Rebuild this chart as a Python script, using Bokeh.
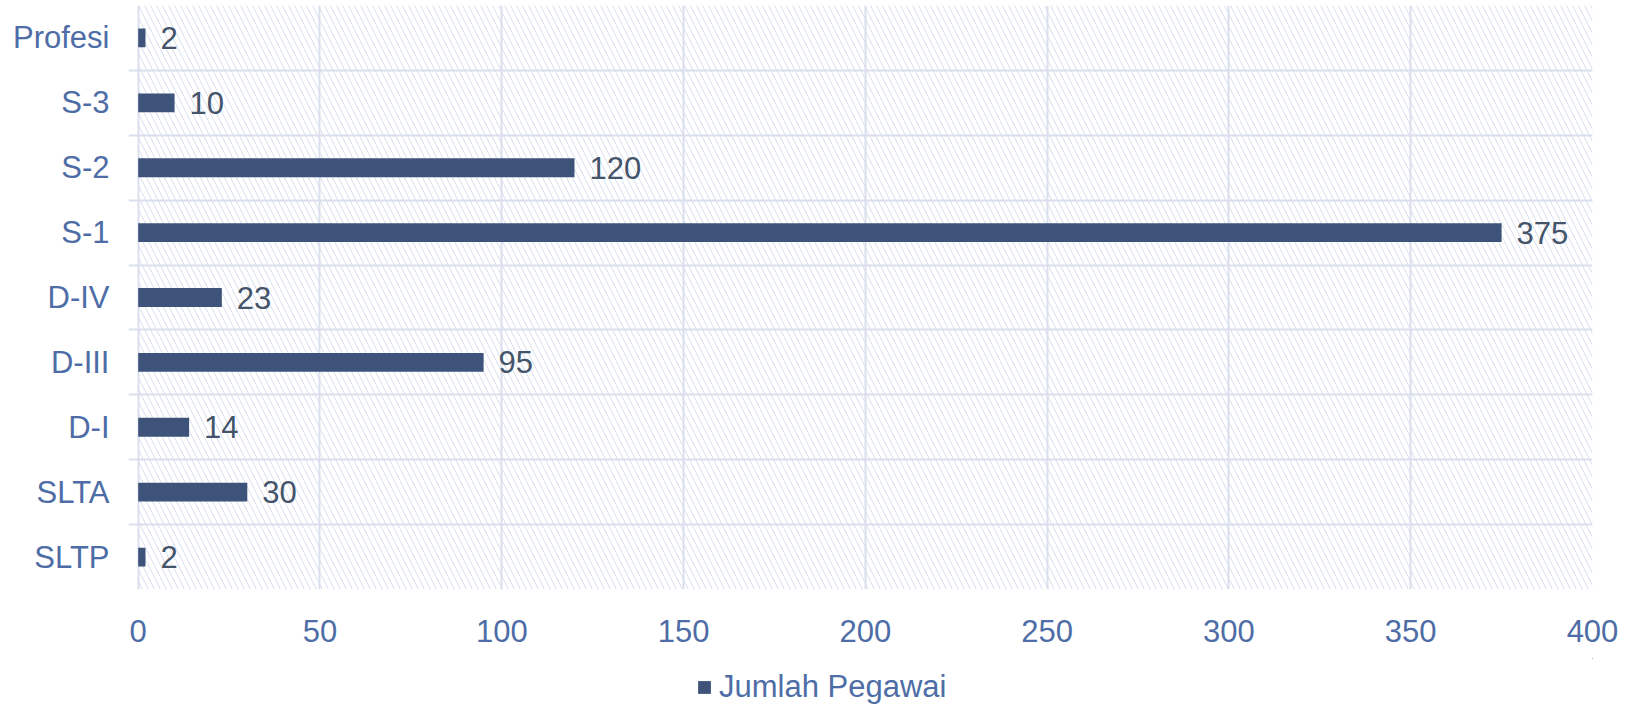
from bokeh.plotting import figure
from bokeh.layouts import column
from bokeh.models import Range1d, FixedTicker, Legend, LegendItem, ColumnDataSource, LabelSet
from bokeh.core.properties import value
from bokeh.embed import file_html
from bokeh.resources import INLINE

categories = ["SLTP", "SLTA", "D-I", "D-III", "D-IV", "S-1", "S-2", "S-3", "Profesi"]
values = [2, 30, 14, 95, 23, 375, 120, 10, 2]
x_ticks = [0, 50, 100, 150, 200, 250, 300, 350, 400]
series_name = "Jumlah Pegawai"

FONT = "Liberation Sans"
LABEL_COLOR = "#4E6DA6"
DATA_COLOR = "#44546A"
BAR_COLOR = "#3E537A"
GRID_COLOR = "#D9DFEC"
HATCH_COLOR = "#D8DEED"

n = len(categories)
ypos = [i + 0.5 for i in range(n)]
src = ColumnDataSource(dict(y=ypos, v=values, lbl=[str(v) for v in values]))

p = figure(width=1620, height=658,
           x_range=Range1d(-2.67, x_ticks[-1]), y_range=Range1d(0, n),
           output_backend="svg", toolbar_location=None,
           min_border_left=128, min_border_right=28, min_border_top=5, min_border_bottom=69,
           background_fill_color="white", border_fill_color="white", outline_line_color=None)

# hatched plot background
p.quad(left=[x_ticks[0]], right=[x_ticks[-1]], bottom=[0], top=[n],
       fill_alpha=0, line_alpha=0, hatch_pattern="\\", hatch_color=HATCH_COLOR,
       hatch_scale=12, hatch_weight=1, level="underlay")

p.xgrid.ticker = FixedTicker(ticks=x_ticks)
p.ygrid.ticker = FixedTicker(ticks=list(range(n + 1)))
for g in (p.xgrid, p.ygrid):
    g.grid_line_color = GRID_COLOR
    g.grid_line_width = 2

bars = p.hbar(y="y", right="v", left=0, height=0.29, source=src,
              fill_color=BAR_COLOR, line_color=None)

labels = LabelSet(x="v", y="y", text="lbl", source=src, x_offset=15,
                  text_align="left", text_baseline="middle",
                  text_font=value(FONT), text_font_size=value("31px"), text_color=DATA_COLOR)
p.add_layout(labels)

p.yaxis.ticker = FixedTicker(ticks=ypos)
p.yaxis.major_label_overrides = {y: c for y, c in zip(ypos, categories)}
p.xaxis.ticker = FixedTicker(ticks=x_ticks)
p.yaxis.major_label_standoff = 19
p.xaxis.major_label_standoff = 30
for ax in (p.xaxis, p.yaxis):
    ax.axis_line_color = None
    ax.major_tick_line_color = None
    ax.minor_tick_line_color = None
    ax.major_tick_out = 0
    ax.major_tick_in = 0
    ax.major_label_text_font = FONT
    ax.major_label_text_font_size = "31px"
    ax.major_label_text_color = LABEL_COLOR

# legend strip below the chart (its bars sit outside its visible ranges)
p2 = figure(width=1620, height=47, output_backend="svg", toolbar_location=None,
            x_axis_type=None, y_axis_type=None, min_border=0,
            x_range=Range1d(-20, -10), y_range=Range1d(-20, -10),
            background_fill_color="white", border_fill_color="white", outline_line_color=None)
key = p2.hbar(y="y", right="v", left=0, height=0.29, source=src,
              fill_color=BAR_COLOR, line_color=None)
legend = Legend(items=[LegendItem(label=series_name, renderers=[key])],
                location=(568, 0), orientation="horizontal",
                glyph_width=16, glyph_height=16, label_standoff=7, label_height=36,
                label_text_font=FONT, label_text_font_size="31px",
                label_text_color=LABEL_COLOR, border_line_color=None,
                background_fill_alpha=0, padding=0, margin=0, spacing=0)
p2.add_layout(legend, "center")

open("out.html", "w").write(file_html(column(p, p2, spacing=0), INLINE))
